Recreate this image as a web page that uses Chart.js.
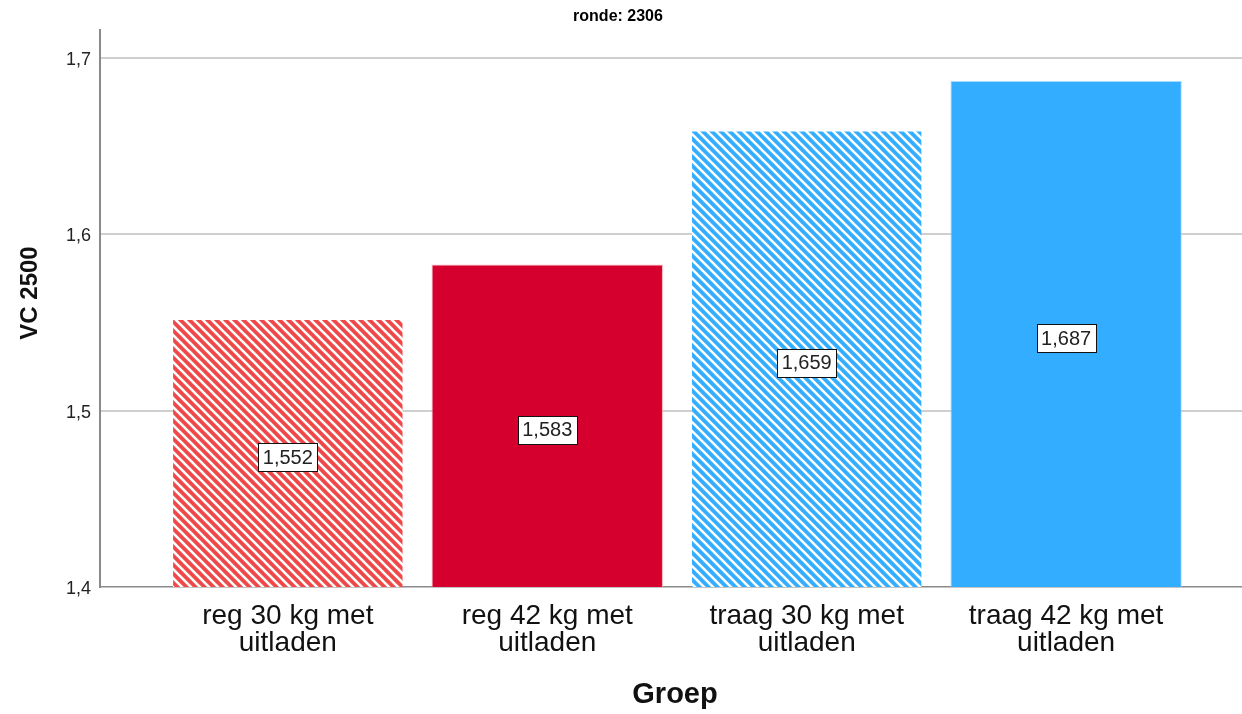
<!DOCTYPE html>
<html>
<head>
<meta charset="utf-8">
<script src="https://cdn.jsdelivr.net/npm/chart.js@4.4.1/dist/chart.umd.min.js"></script>
<style>
  html, body { margin: 0; padding: 0; background: #ffffff; }
  #wrap { width: 1242px; height: 714px; position: relative; }
</style>
</head>
<body>
<div id="wrap"><canvas id="c" width="1242" height="714"></canvas></div>
<script>
const categories = ['reg 30 kg met uitladen', 'reg 42 kg met uitladen', 'traag 30 kg met uitladen', 'traag 42 kg met uitladen'];
const values = [1.552, 1.583, 1.659, 1.687];
const valueLabels = ['1,552', '1,583', '1,659', '1,687'];
const yTicks = [1.4, 1.5, 1.6, 1.7];
const yTickLabels = ['1,4', '1,5', '1,6', '1,7'];
const chartTitle = 'ronde: 2306';
const yTitle = 'VC 2500';
const xTitle = 'Groep';

const FONT = '"Liberation Sans", Arial, sans-serif';

function hatch(base) {
  const s = 9;
  const cv = document.createElement('canvas');
  cv.width = s; cv.height = s;
  const g = cv.getContext('2d');
  g.fillStyle = base;
  g.fillRect(0, 0, s, s);
  g.strokeStyle = '#ffffff';
  g.lineWidth = 2.6;
  for (let k = -1; k <= 1; k++) {
    g.beginPath();
    g.moveTo(-2, -2 + k * s);
    g.lineTo(s + 2, s + 2 + k * s);
    g.stroke();
  }
  return g.createPattern(cv, 'repeat');
}

const fills = [hatch('#ef4848'), '#d6002f', hatch('#33adff'), '#33adff'];
const borders = ['rgba(0,0,0,0)', 'rgba(255,160,170,0.8)', 'rgba(0,0,0,0)', 'rgba(160,215,255,0.9)'];

function splitLabel(s) {
  const i = s.lastIndexOf(' ');
  return [s.slice(0, i), s.slice(i + 1)];
}

const textPlugin = {
  id: 'extraText',
  afterDraw(chart) {
    const ctx = chart.ctx;
    ctx.save();
    ctx.font = 'bold 16px ' + FONT;
    ctx.fillStyle = '#000';
    ctx.textAlign = 'center';
    ctx.textBaseline = 'middle';
    ctx.fillText(chartTitle, 618, 17);
    // x axis title
    ctx.font = 'bold 29px ' + FONT;
    ctx.fillStyle = '#111';
    ctx.fillText(xTitle, 675, 695);
    // y axis title
    ctx.translate(30, 293);
    ctx.rotate(-Math.PI / 2);
    ctx.font = 'bold 24px ' + FONT;
    ctx.fillText(yTitle, 0, 0);
    ctx.restore();
  }
};

const valueLabelPlugin = {
  id: 'valueLabels',
  afterDatasetsDraw(chart) {
    const ctx = chart.ctx;
    const xs = chart.scales.x, ys = chart.scales.y;
    ctx.save();
    ctx.font = '20px ' + FONT;
    ctx.textAlign = 'center';
    ctx.textBaseline = 'middle';
    values.forEach((v, i) => {
      const cx = xs.getPixelForValue(i);
      const cy = (ys.getPixelForValue(v) + ys.getPixelForValue(ys.min)) / 2 + 3;
      const txt = valueLabels[i];
      const w = Math.round(ctx.measureText(txt).width + 9);
      const h = 28;
      const bx = Math.round(cx - w / 2) + 0.5, by = Math.round(cy - h / 2) + 1.5;
      ctx.fillStyle = '#ffffff';
      ctx.fillRect(bx, by, w, h);
      ctx.strokeStyle = '#111';
      ctx.lineWidth = 1;
      ctx.strokeRect(bx, by, w, h);
      ctx.fillStyle = '#222';
      ctx.fillText(txt, cx, cy + 2);
    });
    ctx.restore();
  }
};

new Chart(document.getElementById('c'), {
  type: 'bar',
  data: {
    datasets: [{
      data: values.map((v, i) => ({ x: i, y: v })),
      backgroundColor: fills,
      borderColor: borders,
      borderWidth: 1,
      borderSkipped: 'bottom',
      barPercentage: 0.892,
      categoryPercentage: 1.0
    }]
  },
  options: {
    responsive: false,
    animation: false,
    layout: { padding: { top: 30, right: 0, left: 0, bottom: 0 } },
    plugins: {
      legend: { display: false },
      tooltip: { enabled: false },
      title: { display: false }
    },
    scales: {
      x: {
        type: 'linear',
        offset: false,
        min: -0.724,
        max: 3.678,
        afterBuildTicks(scale) { scale.ticks = categories.map((c, i) => ({ value: i })); },
        afterFit(scale) { scale.height = 127; },
        grid: { display: false, drawTicks: false },
        border: { display: true, color: '#8a8a8a', width: 1.5 },
        ticks: {
          autoSkip: false,
          maxRotation: 0,
          minRotation: 0,
          padding: 16,
          color: '#111',
          font: { family: FONT, size: 28, lineHeight: 0.95 },
          callback: (v) => (Number.isInteger(v) && categories[v]) ? splitLabel(categories[v]) : ''
        },
        title: { display: false }
      },
      y: {
        min: 1.4,
        max: 1.716,
        afterBuildTicks(scale) { scale.ticks = yTicks.map(v => ({ value: v })); },
        afterFit(scale) { scale.width = 100; },
        grid: {
          drawTicks: false,
          color: (ctx) => (ctx.tick && ctx.tick.value === 1.4) ? 'rgba(0,0,0,0)' : '#cfcfcf',
          lineWidth: 2
        },
        border: { display: true, color: '#8a8a8a', width: 2 },
        ticks: {
          padding: 9,
          labelOffset: 2,
          color: '#222',
          font: { family: FONT, size: 18 },
          callback: (v) => { const i = yTicks.indexOf(v); return i >= 0 ? yTickLabels[i] : ''; }
        },
        title: { display: false }
      }
    }
  },
  plugins: [textPlugin, valueLabelPlugin]
});
</script>
</body>
</html>
